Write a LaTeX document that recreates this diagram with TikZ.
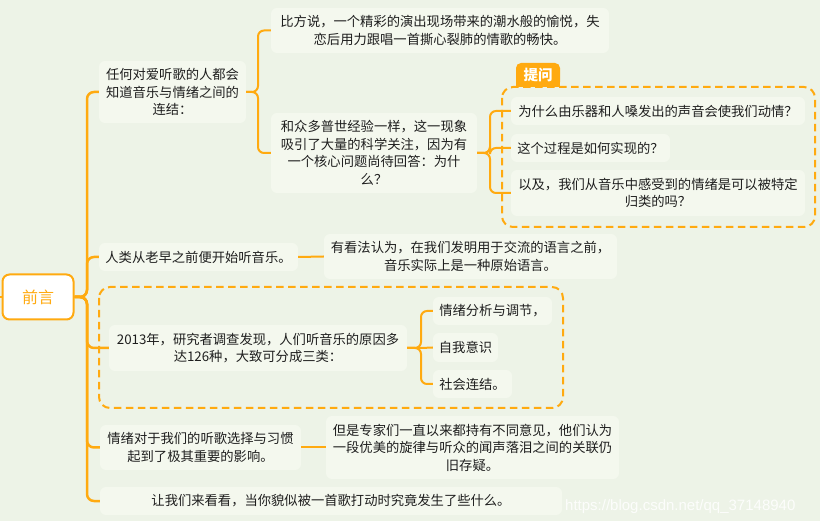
\documentclass[tikz,border=0pt]{standalone}
\usepackage{fontspec}
\setmainfont{Noto Sans CJK SC}
\newfontfamily\wmfont{Liberation Sans}
\definecolor{bg}{RGB}{237,243,231}
\definecolor{nodefill}{RGB}{244,248,238}
\definecolor{acc}{RGB}{255,170,16}
\definecolor{txt}{RGB}{30,30,30}
\tikzset{
  box/.style={fill=nodefill, rounded corners=6pt, inner sep=0pt, align=center, text=txt,
    font=\fontsize{13.3}{17.5}\selectfont},
  link/.style={draw=acc, line width=2pt, rounded corners=6pt},
  trunk/.style={draw=acc, line width=2.5pt, rounded corners=7pt},
  grp/.style={draw=acc, line width=2pt, rounded corners=11pt, dash pattern=on 7.5pt off 4.5pt},
}
\begin{document}
\begin{tikzpicture}[x=1pt,y=-1pt]
\fill[bg] (0,0) rectangle (820,521);
\useasboundingbox (0,0) rectangle (820,521);

% dashed groups
\draw[grp] (502,87) rectangle (815,227);
\draw[grp] (99,287) rectangle (563,408);

% tag
\node[fill=acc, rounded corners=5pt, minimum width=44pt, minimum height=24pt, inner sep=0pt] (tagbg) at (538,75) {};
\fill[acc] (516,78) rectangle (560,87.5);
\node[text=white, font=\fontsize{14.5}{16}\selectfont\bfseries, inner sep=0pt] (tag) at (538,75) {提问};

% root
\node[draw=acc, line width=2pt, fill=white, rounded corners=7pt, minimum width=71pt, minimum height=45pt, inner sep=0pt, text=acc, font=\fontsize{16}{18}\selectfont] (root) at (38,297) {前言};

% level 1
\node[box, minimum width=147pt, minimum height=62pt] (n1) at (172.5,92) {任何对爱听歌的人都会\\知道音乐与情绪之间的\\连结：};
\node[box, minimum width=199pt, minimum height=28pt] (n2) at (198.5,257) {人类从老早之前便开始听音乐。};
\node[box, minimum width=298pt, minimum height=46pt] (n3) at (258,348) {2013年，研究者调查发现，人们听音乐的原因多\\达126种，大致可分成三类：};
\node[box, minimum width=201pt, minimum height=45pt] (n4) at (200.5,447.5) {情绪对于我们的听歌选择与习惯\\起到了极其重要的影响。};
\node[box, minimum width=462pt, minimum height=28pt] (n5) at (331,501) {让我们来看看，当你貌似被一首歌打动时究竟发生了些什么。};

% level 2
\node[box, minimum width=338pt, minimum height=45pt] (n1a) at (440,30.5) {比方说，一个精彩的演出现场带来的潮水般的愉悦，失\\恋后用力跟唱一首撕心裂肺的情歌的畅快。};
\node[box, minimum width=206pt, minimum height=80pt] (n1b) at (374,153) {和众多普世经验一样，这一现象\\吸引了大量的科学关注，因为有\\一个核心问题尚待回答：为什\\么？};
\node[box, minimum width=293pt, minimum height=45pt] (n2a) at (470.5,256.5) {有看法认为，在我们发明用于交流的语言之前，\\音乐实际上是一种原始语言。};
\node[box, minimum width=119pt, minimum height=28pt] (n3a) at (492.5,311) {情绪分析与调节，};
\node[box, minimum width=65pt, minimum height=29pt] (n3b) at (465.5,347.5) {自我意识};
\node[box, minimum width=79pt, minimum height=28pt] (n3c) at (472.5,384) {社会连结。};
\node[box, minimum width=293pt, minimum height=63pt] (n4a) at (472.5,447.5) {但是专家们一直以来都持有不同意见，他们认为\\一段优美的旋律与听众的闻声落泪之间的关联仍\\旧存疑。};

% level 3
\node[box, minimum width=294pt, minimum height=28pt] (q1) at (658,111) {为什么由乐器和人嗓发出的声音会使我们动情？};
\node[box, minimum width=159pt, minimum height=28pt] (q2) at (590.5,148) {这个过程是如何实现的？};
\node[box, minimum width=294pt, minimum height=46pt] (q3) at (658,193) {以及，我们从音乐中感受到的情绪是可以被特定\\归类的吗？};

% connectors from root
\coordinate (tk) at (87,297);
\draw[acc, line width=2.5pt] (0,297) -- (root.west);
\draw[trunk] (root.east) -- (tk) -- (87,92) -- (n1.west);
\draw[trunk] (root.east) -- (tk) -- (87,257) -- (n2.west);
\draw[trunk] (root.east) -- (tk) -- (87,348) -- (n3.west);
\draw[trunk] (root.east) -- (tk) -- (87,447.5) -- (n4.west);
\draw[trunk] (root.east) -- (tk) -- (87,501) -- (n5.west);

% n1 children
\draw[link] (n1.east) -- (258,92) -- (258,30.5) -- (n1a.west);
\draw[link] (n1.east) -- (258,92) -- (258,153) -- (n1b.west);

% n1b children
\draw[link] (n1b.east) -- (490,153) -- (490,111) -- (q1.west);
\draw[link] (n1b.east) -- (490,153) -- (490,148) -- (q2.west);
\draw[link] (n1b.east) -- (490,153) -- (490,193) -- (q3.west);

% n2, n4
\draw[link] (n2.east) -- (n2a.west);
\draw[link] (n4.east) -- (n4a.west);

% n3 children
\draw[link] (n3.east) -- (421,348) -- (421,311) -- (n3a.west);
\draw[link] (n3.east) -- (421,348) -- (n3b.west);
\draw[link] (n3.east) -- (421,348) -- (421,384) -- (n3c.west);

% watermark
\node[anchor=west, inner sep=0pt, text=white, opacity=0.85, font=\wmfont\fontsize{15}{17}\selectfont] (wm) at (565,507) {https://blog.csdn.net/qq\_37148940};
\end{tikzpicture}
\end{document}
